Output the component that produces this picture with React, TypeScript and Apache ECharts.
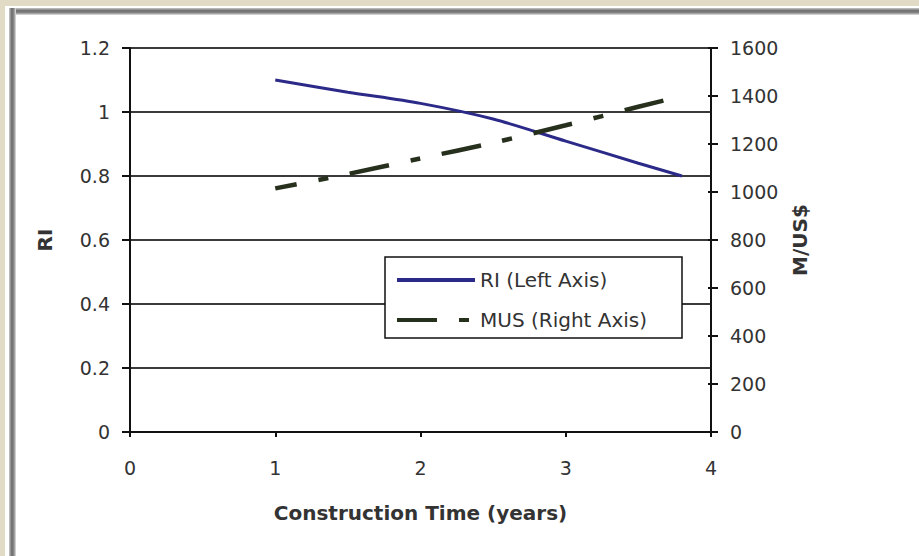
import React, { useEffect, useRef } from "react";
import * as echarts from "echarts";

const years = [1, 1.5, 2, 2.5, 3, 3.5, 3.8];
const riValues = [1.1, 1.062, 1.027, 0.978, 0.909, 0.84, 0.8];
const musValues = [1015, 1075, 1140, 1205, 1278, 1355, 1400];
const riName = "RI (Left Axis)";
const musName = "MUS (Right Axis)";
const xTitle = "Construction Time (years)";
const leftTitle = "RI";
const rightTitle = "M/US$";

const FONT = "DejaVu Sans";
const TEXT = "#333";
const AXIS = "#111";

export default function App() {
  const ref = useRef<HTMLDivElement>(null);
  useEffect(() => {
    const chart = echarts.init(ref.current!, null, { renderer: "svg" });
    chart.setOption({
      animation: false,
      backgroundColor: "transparent",
      textStyle: { fontFamily: FONT },
      grid: { left: 130, right: 208, top: 48, bottom: 124, containLabel: false },
      xAxis: {
        type: "value",
        min: 0,
        max: 4,
        interval: 1,
        name: xTitle,
        nameLocation: "middle",
        nameGap: 71,
        nameTextStyle: { fontSize: 20, fontWeight: "bold", color: TEXT, fontFamily: FONT },
        axisLine: { show: true, onZero: false, lineStyle: { color: AXIS, width: 2 } },
        axisTick: { show: true, length: 5, lineStyle: { color: AXIS, width: 2 } },
        axisLabel: { fontSize: 19, color: TEXT, margin: 26, fontFamily: FONT, formatter: (v: number) => String(v) },
        splitLine: { show: false },
      },
      yAxis: [
        {
          type: "value",
          position: "left",
          min: 0,
          max: 1.2,
          interval: 0.2,
          name: leftTitle,
          nameLocation: "middle",
          nameRotate: 90,
          nameGap: 75,
          nameTextStyle: { fontSize: 20, fontWeight: "bold", color: TEXT, fontFamily: FONT },
          axisLine: { show: true, lineStyle: { color: AXIS, width: 2 } },
          axisTick: { show: true, length: 8, lineStyle: { color: AXIS, width: 2 } },
          axisLabel: {
            fontSize: 19,
            color: TEXT,
            margin: 20,
            fontFamily: FONT,
            formatter: (v: number) => String(Math.round(v * 10) / 10),
          },
          splitLine: { show: true, lineStyle: { color: "#3a3a3a", width: 2 } },
        },
        {
          type: "value",
          position: "right",
          min: 0,
          max: 1600,
          interval: 200,
          name: rightTitle,
          nameLocation: "middle",
          nameRotate: 90,
          nameGap: 79,
          nameTextStyle: { fontSize: 20, fontWeight: "bold", color: TEXT, fontFamily: FONT },
          axisLine: { show: true, lineStyle: { color: AXIS, width: 2 } },
          axisTick: { show: true, length: 7, lineStyle: { color: AXIS, width: 2 } },
          axisLabel: { fontSize: 19, color: TEXT, margin: 19, fontFamily: FONT, formatter: (v: number) => String(v) },
          splitLine: { show: false },
        },
        {
          type: "value",
          position: "right",
          min: 0,
          max: 1600,
          interval: 200,
          axisLine: { show: false },
          axisTick: { show: true, inside: true, length: 3, lineStyle: { color: AXIS, width: 2 } },
          axisLabel: { show: false },
          splitLine: { show: false },
        },
      ],
      legend: {
        orient: "vertical",
        left: 385,
        top: 257,
        padding: [13, 7, 8, 10],
        itemGap: 20,
        itemWidth: 78,
        itemHeight: 20,
        backgroundColor: "#fff",
        borderColor: AXIS,
        borderWidth: 1.5,
        itemStyle: { opacity: 0 },
        lineStyle: { width: 4, dashOffset: 0, cap: "butt" },
        textStyle: { fontSize: 20, color: TEXT, width: 195, lineHeight: 20, fontFamily: FONT },
        data: [riName, musName],
      },
      series: [
        {
          name: riName,
          type: "line",
          yAxisIndex: 0,
          data: years.map((x, i) => [x, riValues[i]]),
          symbol: "none",
          smooth: 0.3,
          itemStyle: { color: "#2c2a88" },
          lineStyle: { color: "#2c2a88", width: 3 },
          z: 3,
        },
        {
          name: musName,
          type: "line",
          yAxisIndex: 1,
          data: years.map((x, i) => [x, musValues[i]]),
          symbol: "none",
          smooth: 0.3,
          itemStyle: { color: "#27301d" },
          lineStyle: { color: "#27301d", width: 4.5, type: [40, 22, 10, 22], dashOffset: 18, cap: "butt" },
          z: 3,
        },
      ],
    });
    return () => chart.dispose();
  }, []);

  return (
    <div
      style={{
        position: "fixed",
        left: 0,
        top: 0,
        width: 919,
        height: 556,
        background: "#e1dbc6",
        overflow: "hidden",
      }}
    >
      <div style={{ position: "absolute", left: 5, top: 6, right: 0, bottom: 0, background: "#fff" }} />
      <div
        style={{
          position: "absolute",
          left: 9,
          top: 8,
          right: 0,
          height: 7,
          background: "linear-gradient(#c8c8c8, #6a6a6a 40%, #8a8a8a 70%, #e4e4e4)",
        }}
      />
      <div
        style={{
          position: "absolute",
          left: 9,
          top: 8,
          width: 7,
          bottom: 0,
          background: "linear-gradient(to right, #c8c8c8, #6a6a6a 40%, #8a8a8a 70%, #e4e4e4)",
        }}
      />
      <div ref={ref} style={{ position: "absolute", left: 0, top: 0, width: 919, height: 556 }} />
    </div>
  );
}
